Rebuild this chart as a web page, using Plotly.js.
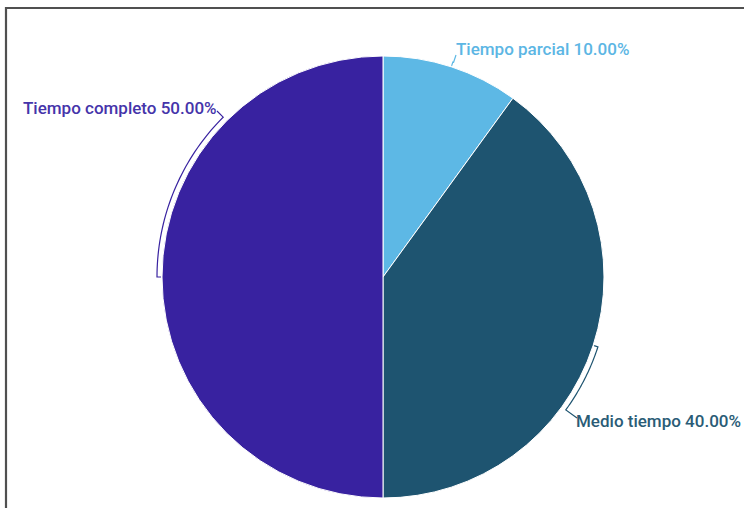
<!DOCTYPE html>
<html>
<head>
<meta charset="utf-8">
<script src="https://cdn.plot.ly/plotly-3.0.1.min.js"></script>
<style>html,body{margin:0;padding:0;background:#fff;}#chart{width:744px;height:508px;}</style>
</head>
<body>
<div id="chart"></div>
<script>
const categories = ["Tiempo parcial", "Medio tiempo", "Tiempo completo"];
const values = [10, 40, 50];
const colors = ["#5db8e5", "#1e5470", "#3822a0"];
const textColors = ["#5cb6e4", "#2a5c76", "#4534aa"];
// label anchor (pixels) and connector end (pixels)
const labelPos = [[454, 49, "left"], [574, 421, "left"], [219, 108, "right"]];
const connEnd = [[456, 55], [577, 418], [217, 111]];

const W = 744, H = 508;
const M = {l: 22, r: 0, t: 56, b: 10};
const PW = W - M.l - M.r, PH = H - M.t - M.b;
const R = Math.min(PW, PH) / 2;
const CX = M.l + PW / 2, CY = M.t + PH / 2;
const px2x = p => (p - M.l) / PW;
const py2y = p => (H - M.b - p) / PH;

const total = values.reduce((a, b) => a + b, 0);
const shapes = [];
const annotations = [];
let cum = 0;
values.forEach((v, i) => {
  const mid = (cum + v / 2) / total * 2 * Math.PI;
  cum += v;
  const ce = connEnd[i];
  let endA = Math.atan2(ce[0] - CX, -(ce[1] - CY));
  if (endA < 0) endA += 2 * Math.PI;
  if (Math.abs(endA - mid) > Math.PI) endA += (endA < mid ? 2 : -2) * Math.PI;
  const pt = (a, r) => [CX + r * Math.sin(a), CY - r * Math.cos(a)];
  const RB = R + 5;
  const pts = [pt(mid, R + 1), pt(mid, RB)];
  const n = 40;
  for (let k = 1; k <= n; k++) pts.push(pt(mid + (endA - mid) * k / n, RB));
  pts.push(ce);
  const path = pts.map((p, k) => (k ? "L" : "M") + px2x(p[0]).toFixed(5) + "," + py2y(p[1]).toFixed(5)).join(" ");
  shapes.push({type: "path", xref: "paper", yref: "paper", path: path, line: {color: colors[i], width: 1.2}});
  const lp = labelPos[i];
  annotations.push({
    xref: "paper", yref: "paper", x: px2x(lp[0]), y: py2y(lp[1]),
    xanchor: lp[2], yanchor: "middle", showarrow: false,
    text: categories[i] + " " + (v / total * 100).toFixed(2) + "%",
    font: {family: "Roboto", size: 17, weight: 500, color: textColors[i]}
  });
});

// outer frame
shapes.push({type: "rect", xref: "paper", yref: "paper",
  x0: px2x(6), x1: px2x(780), y0: py2y(8), y1: py2y(540),
  line: {color: "#505050", width: 2.2}, fillcolor: "rgba(0,0,0,0)"});

const data = [{
  type: "pie",
  labels: categories,
  values: values,
  sort: false,
  direction: "clockwise",
  rotation: 0,
  textinfo: "none",
  hoverinfo: "label+percent",
  marker: {colors: colors, line: {color: "#ffffff", width: 1}},
  showlegend: false,
  automargin: false
}];

const layout = {
  width: W, height: H,
  margin: M,
  paper_bgcolor: "#ffffff",
  plot_bgcolor: "#ffffff",
  showlegend: false,
  shapes: shapes,
  annotations: annotations,
  font: {family: "Roboto"}
};

Plotly.newPlot("chart", data, layout, {displayModeBar: false, staticPlot: true});
</script>
</body>
</html>
